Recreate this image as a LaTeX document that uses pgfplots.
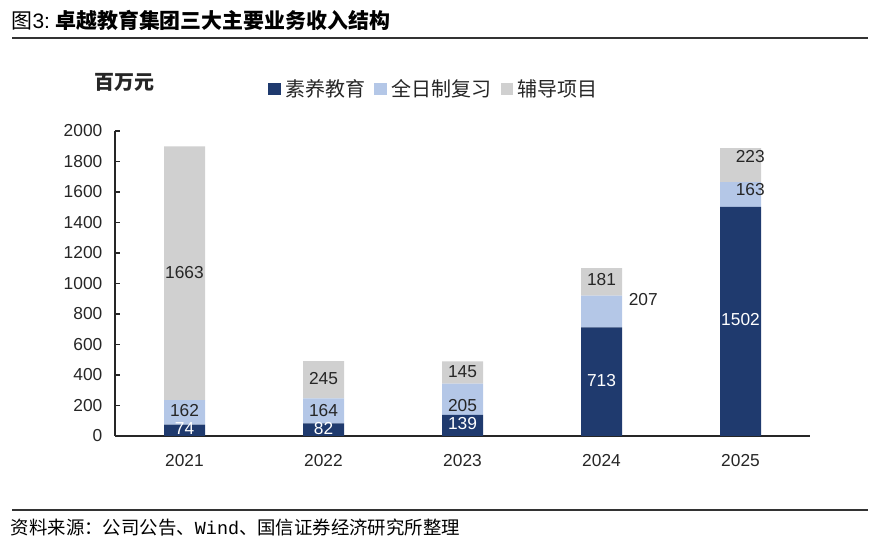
\documentclass[border=0pt]{standalone}
\usepackage{fontspec}
\setmainfont{Liberation Sans}
\newfontfamily\cjk{Noto Sans CJK SC}
\newfontfamily\monof{Liberation Mono}
\usepackage{pgfplots}
\pgfplotsset{compat=1.18}
\definecolor{navy}{HTML}{1F3A6E}
\definecolor{lblue}{HTML}{B4C7E7}
\definecolor{lgray}{HTML}{D0D0D0}
\definecolor{txt}{HTML}{262626}
\begin{document}
\begin{tikzpicture}[x=1pt,y=1pt]
\path[use as bounding box] (0,0) rectangle (660,405.75);
\node[anchor=west, inner sep=0, font=\fontsize{15.7}{18}\selectfont] at (8.5,390.75) {{\cjk 图}3:\hspace{4pt}{\cjk\bfseries 卓越教育集团三大主要业务收入结构}};
\draw[line width=0.9pt, black!80] (9,377.25) -- (651,377.25);
\draw[line width=0.9pt, black!80] (9,23.25) -- (651,23.25);
\node[anchor=west, inner sep=0, font=\fontsize{13.8}{15}\selectfont\cjk] at (8,9.75) {资料来源：公司公告、{\monof Wind}、国信证券经济研究所整理};
\node[anchor=center, text=txt, font=\fontsize{15}{17}\selectfont\cjk\bfseries] at (93,344.25) {百万元};
\begin{axis}[
  at={(86.25pt,78.75pt)}, anchor=south west, scale only axis,
  width=521.25pt, height=228.75pt,
  ybar stacked, bar width=30.75pt,
  xmin=-0.5, xmax=4.5, ymin=0, ymax=2000,
  axis x line=bottom, axis y line=left,
  axis line style={black!85, line width=0.8pt, -},
  xtick={0,1,2,3,4}, xticklabels={2021,2022,2023,2024,2025},
  ytick={0,200,...,2000},
  /pgf/number format/.cd, 1000 sep={}, assume math mode=true, /pgfplots/.cd,
  x tick style={draw=none},
  y tick style={black!85, line width=0.8pt},
  tick align=inside, major tick length=3.75pt,
  tick label style={font=\fontsize{13}{15}\selectfont, text=txt},
  yticklabel style={xshift=-6pt},
  xticklabel style={yshift=-10pt},
  legend style={at={(0.2144,1.1377)}, anchor=west, draw=none, fill=none,
    legend columns=3, font=\fontsize{15}{17}\selectfont\cjk, text=txt,
    /tikz/every even column/.append style={column sep=4pt},
    nodes={inner xsep=3pt}},
  legend image code/.code={\fill[#1] (0pt,-4.8pt) rectangle (9.6pt,4.8pt);},
]
\addplot[fill=navy, draw=none] coordinates {(0,74) (1,82) (2,139) (3,713) (4,1502)};
\addlegendentry{素养教育}
\addplot[fill=lblue, draw=none] coordinates {(0,162) (1,164) (2,205) (3,207) (4,163)};
\addlegendentry{全日制复习}
\addplot[fill=lgray, draw=none] coordinates {(0,1663) (1,245) (2,145) (3,181) (4,223)};
\addlegendentry{辅导项目}
\end{axis}
\begin{axis}[
  at={(86.25pt,78.75pt)}, anchor=south west, scale only axis,
  width=521.25pt, height=228.75pt,
  xmin=-0.5, xmax=4.5, ymin=0, ymax=2000, hide axis,
  nodes near coords, point meta=explicit symbolic,
  every node near coord/.append style={anchor=center, inner sep=0pt, font=\fontsize{13}{15}\selectfont},
]
\addplot[draw=none, mark=none, every node near coord/.append style={text=white}] coordinates {(0,46)[74] (1,52)[82] (2,85)[139] (3,361)[713] (4,761)[1502]};
\addplot[draw=none, mark=none, every node near coord/.append style={text=txt}] coordinates {(0,170)[162] (1,170)[164] (2,203)[205] (3.3,892)[207] (4.07,1613)[163]};
\addplot[draw=none, mark=none, every node near coord/.append style={text=txt}] coordinates {(0,1075)[1663] (1,374)[245] (2,420)[145] (3,1023)[181] (4.07,1830)[223]};
\end{axis}
\end{tikzpicture}
\end{document}
